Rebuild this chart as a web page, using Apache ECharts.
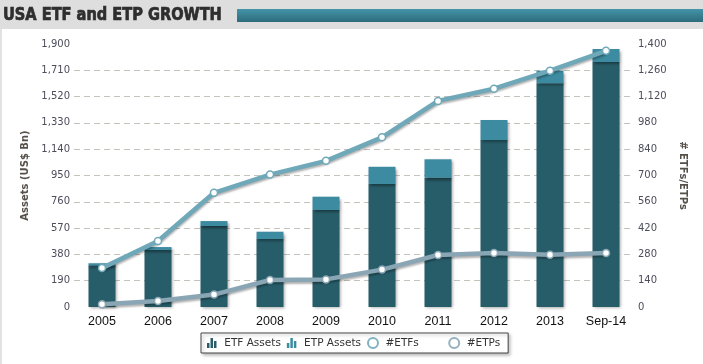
<!DOCTYPE html>
<html><head><meta charset="utf-8">
<script src="https://cdn.jsdelivr.net/npm/echarts@6/dist/echarts.min.js"></script>
<style>html,body{margin:0;padding:0;background:#fff}#c{width:703px;height:364px}</style>
</head><body><div id="c"></div>
<script>
var categories = ['2005','2006','2007','2008','2009','2010','2011','2012','2013','Sep-14'];
var etfAssets = [301, 412, 585, 491, 701, 889, 934, 1206, 1616, 1770];
var etpAssets = [15, 21, 36, 53, 96, 124, 133, 145, 91, 94];
var etfCount = [207, 351, 608, 705, 778, 903, 1097, 1162, 1258, 1364];
var etpCount = [14, 32, 66, 144, 147, 199, 277, 287, 278, 287];
var titleText = 'USA ETF and ETP GROWTH';

var chart = echarts.init(document.getElementById('c'), null, {renderer:'canvas'});
var labelFont = {color:'#4d4d5c', fontFamily:'DejaVu Sans', fontSize:10};
var barIcon = 'path://M0,10V5H2.5V10ZM3.5,10V0H6V10ZM7,10V3H9.5V10Z';
chart.setOption({
  animation:false,
  backgroundColor:'#fff',
  graphic:[
    {type:'rect', shape:{x:0,y:0,width:703,height:29}, style:{fill:'#dedede'}, z:-10},
    {type:'rect', shape:{x:0,y:29,width:2,height:335}, style:{fill:'#e2e2e2'}, z:-10},
    {type:'rect', shape:{x:237,y:9,width:466,height:13},
      style:{fill:new echarts.graphic.LinearGradient(0,0,0,1,[{offset:0,color:'#4494a8'},{offset:1,color:'#2c6c7c'}])}, z:-9},
    {type:'text', x:3, y:6, scaleX:0.9, originX:0, style:{text:titleText, fill:'#2e2e2e', stroke:'#2e2e2e', lineWidth:0.7, font:'bold 18px "DejaVu Sans Condensed"'}}
  ],
  grid:{left:74, right:69, top:44, bottom:57, containLabel:false},
  legend:{
    bottom:11, left:201,
    itemWidth:11, itemHeight:10, itemGap:6,
    borderColor:'#444', borderWidth:1, padding:[4,8,4,6],
    shadowColor:'rgba(0,0,0,0.25)', shadowBlur:3, shadowOffsetX:2, shadowOffsetY:2,
    backgroundColor:'#fff',
    formatter:function(n){ return n === '#ETFs' ? n + '       ' : n; },
    textStyle:{color:'#333', fontFamily:'DejaVu Sans', fontSize:10.5, padding:[0,0,0,2]},
    data:[
      {name:'ETF Assets', icon:barIcon, itemStyle:{color:'#275d69'}},
      {name:'ETP Assets', icon:barIcon, itemStyle:{color:'#3c8ba0'}},
      {name:'#ETFs', icon:'emptyCircle', itemStyle:{color:'#7fb3c3', borderColor:'#7fb3c3', borderWidth:1.2}},
      {name:'#ETPs', icon:'emptyCircle', itemStyle:{color:'#95b0be', borderColor:'#95b0be', borderWidth:1.2}}
    ]
  },
  xAxis:{
    type:'category', data:categories,
    axisLine:{show:false}, axisTick:{show:false},
    axisLabel:{color:'#111', fontFamily:'Liberation Sans', fontSize:12.5, margin:8}
  },
  yAxis:[
    {type:'value', min:0, max:1900, interval:190, position:'left',
      name:'Assets (US$ Bn)', nameLocation:'middle', nameGap:42, nameRotate:90,
      nameTextStyle:{color:'#55504a', fontFamily:'DejaVu Sans', fontSize:10, fontWeight:'bold'},
      axisLine:{show:false}, axisTick:{show:false},
      axisLabel:Object.assign({margin:4, formatter:function(v){return v.toLocaleString('en-US');}}, labelFont),
      splitLine:{show:true, showMinLine:false, showMaxLine:false, lineStyle:{color:'#c4c4bc', type:[6,4], width:1}}
    },
    {type:'value', min:0, max:1400, interval:140, position:'right',
      name:'# ETFs/ETPs', nameLocation:'middle', nameGap:42, nameRotate:-90,
      nameTextStyle:{color:'#55504a', fontFamily:'DejaVu Sans', fontSize:10, fontWeight:'bold'},
      axisLine:{show:false}, axisTick:{show:false},
      axisLabel:Object.assign({margin:4, formatter:function(v){return v.toLocaleString('en-US');}}, labelFont),
      splitLine:{show:false}
    }
  ],
  series:[
    {name:'ETF Assets', type:'bar', stack:'a', data:etfAssets, barWidth:27, yAxisIndex:0,
      itemStyle:{color:'#275d69', shadowColor:'rgba(0,0,0,0.35)', shadowBlur:3, shadowOffsetX:1, shadowOffsetY:1}},
    {name:'ETP Assets', type:'bar', stack:'a', data:etpAssets, barWidth:27, yAxisIndex:0,
      itemStyle:{color:'#3c8ba0', shadowColor:'rgba(0,0,0,0.45)', shadowBlur:3, shadowOffsetX:1, shadowOffsetY:2}},
    {name:'#ETPs', type:'line', data:etpCount, yAxisIndex:1, z:3,
      symbol:'circle', symbolSize:7,
      lineStyle:{color:'#8aa6b5', width:4.5, shadowColor:'rgba(0,0,0,0.3)', shadowBlur:2, shadowOffsetY:2},
      itemStyle:{color:'#fff', borderColor:'#8aa6b5', borderWidth:1.5}},
    {name:'#ETFs', type:'line', data:etfCount, yAxisIndex:1, z:4,
      symbol:'circle', symbolSize:7,
      lineStyle:{color:'#6fa8b8', width:4.5, shadowColor:'rgba(0,0,0,0.3)', shadowBlur:2, shadowOffsetY:2},
      itemStyle:{color:'#fff', borderColor:'#6fa8b8', borderWidth:1.5}}
  ]
});
</script></body></html>
